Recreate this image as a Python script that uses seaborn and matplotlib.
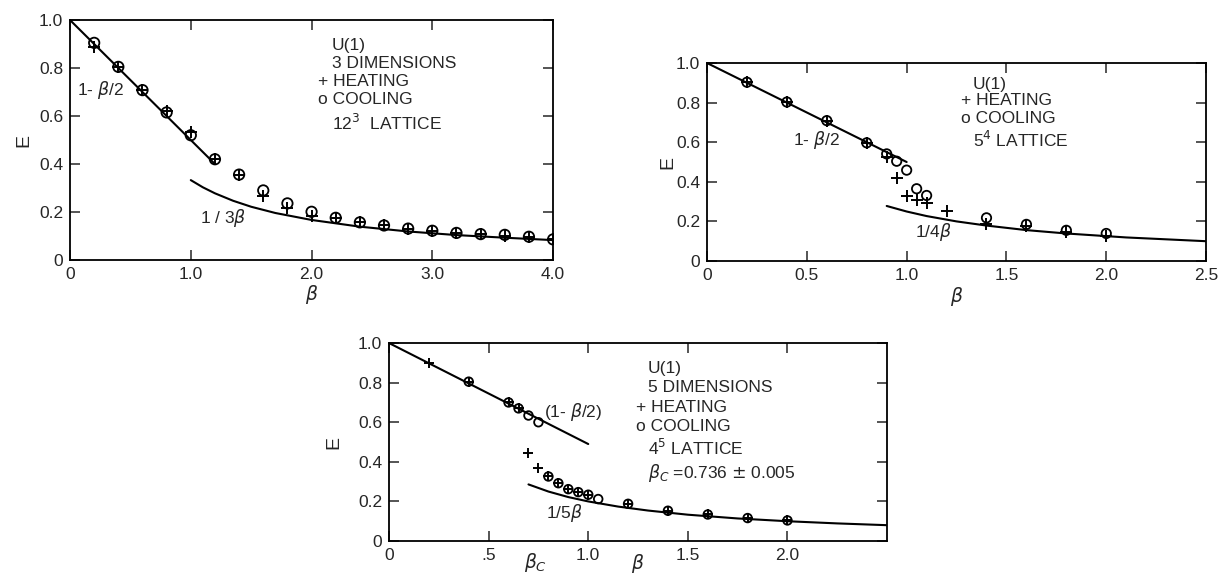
import matplotlib
matplotlib.use("Agg")
import matplotlib.pyplot as plt
import seaborn as sns

# --- data ---
# U(1), 3 dimensions, 12^3 lattice
beta_3d = [0.2, 0.4, 0.6, 0.8, 1.0, 1.2, 1.4, 1.6, 1.8, 2.0,
           2.2, 2.4, 2.6, 2.8, 3.0, 3.2, 3.4, 3.6, 3.8, 4.0]
heat_3d = [0.889, 0.805, 0.708, 0.62, 0.535, 0.42, 0.356, 0.267, 0.215, 0.183,
           0.176, 0.157, 0.144, 0.131, 0.122, 0.113, 0.108, 0.10, 0.097, 0.086]
cool_3d = [0.905, 0.805, 0.708, 0.615, 0.52, 0.42, 0.356, 0.29, 0.236, 0.201,
           0.176, 0.157, 0.144, 0.131, 0.122, 0.113, 0.108, 0.105, 0.097, 0.086]
lin_3d_b = [0.0, 1.2]
lin_3d_e = [1.0, 0.4]
inv_3d_b = [1.0, 1.1, 1.2, 1.35, 1.5, 1.7, 2.0, 2.4, 2.8, 3.2, 3.6, 4.0]
inv_3d_e = [0.333, 0.303, 0.278, 0.247, 0.222, 0.196, 0.167, 0.139, 0.119, 0.104, 0.093, 0.083]

# U(1), 4 dimensions, 5^4 lattice
heat_4d_b = [0.2, 0.4, 0.6, 0.8, 0.9, 0.95, 1.0, 1.05, 1.1, 1.2, 1.4, 1.6, 1.8, 2.0]
heat_4d = [0.903, 0.803, 0.709, 0.597, 0.524, 0.42, 0.328, 0.308, 0.294, 0.252, 0.188, 0.176, 0.146, 0.126]
cool_4d_b = [0.2, 0.4, 0.6, 0.8, 0.9, 0.95, 1.0, 1.05, 1.1, 1.4, 1.6, 1.8, 2.0]
cool_4d = [0.903, 0.803, 0.709, 0.597, 0.541, 0.504, 0.459, 0.365, 0.331, 0.218, 0.185, 0.155, 0.139]
lin_4d_b = [0.0, 1.0]
lin_4d_e = [1.0, 0.5]
inv_4d_b = [0.9, 1.0, 1.1, 1.25, 1.4, 1.6, 1.8, 2.1, 2.5]
inv_4d_e = [0.278, 0.25, 0.227, 0.2, 0.179, 0.156, 0.139, 0.119, 0.10]

# U(1), 5 dimensions, 4^5 lattice
heat_5d_b = [0.2, 0.4, 0.6, 0.65, 0.7, 0.75, 0.8, 0.85, 0.9, 0.95, 1.0, 1.2, 1.4, 1.6, 1.8, 2.0]
heat_5d = [0.90, 0.805, 0.70, 0.67, 0.447, 0.371, 0.326, 0.292, 0.262, 0.247, 0.234, 0.188, 0.153, 0.134, 0.116, 0.104]
cool_5d_b = [0.4, 0.6, 0.65, 0.7, 0.75, 0.8, 0.85, 0.9, 0.95, 1.0, 1.05, 1.2, 1.4, 1.6, 1.8, 2.0]
cool_5d = [0.805, 0.70, 0.67, 0.634, 0.60, 0.326, 0.292, 0.262, 0.247, 0.234, 0.212, 0.188, 0.153, 0.134, 0.116, 0.104]
lin_5d_b = [0.0, 1.0]
lin_5d_e = [1.0, 0.49]
inv_5d_b = [0.7, 0.8, 0.9, 1.0, 1.15, 1.3, 1.5, 1.75, 2.0, 2.25, 2.5]
inv_5d_e = [0.286, 0.25, 0.222, 0.2, 0.174, 0.154, 0.133, 0.114, 0.1, 0.089, 0.08]

y_ticks = [0, 0.2, 0.4, 0.6, 0.8, 1.0]
y_ticklabels = ['0', '0.2', '0.4', '0.6', '0.8', '1.0']

sns.set_style("ticks")
plt.rcParams['font.family'] = ['Liberation Sans', 'DejaVu Sans']
plt.rcParams['mathtext.fontset'] = 'dejavusans'

FS = 12.5

fig = plt.figure(figsize=(12.18, 5.73), dpi=100)
ax1 = fig.add_axes([0.0575, 0.5462, 0.3966, 0.4188])
ax2 = fig.add_axes([0.5805, 0.5445, 0.4097, 0.3455])
ax3 = fig.add_axes([0.3194, 0.0558, 0.4089, 0.3455])


def draw_panel(ax, hb, he, cb, ce, lb, le, ib, ie, msize):
    sns.lineplot(x=lb, y=le, ax=ax, color='black', linewidth=1.5, sort=False, estimator=None)
    sns.lineplot(x=ib, y=ie, ax=ax, color='black', linewidth=1.5, sort=False, estimator=None)
    sns.scatterplot(x=hb, y=he, ax=ax, marker='+', color='black', s=msize, linewidth=1.4, zorder=3)
    sns.scatterplot(x=cb, y=ce, ax=ax, marker='o', facecolors='none', edgecolor='black',
                    s=msize * 0.7, linewidth=1.3, zorder=3)


def style_axes(ax, xmax, xticks, xlabels, ylab_x, xlab_y):
    ax.set_xlim(0, xmax)
    ax.set_ylim(0, 1.0)
    ax.set_xticks(xticks)
    ax.set_xticklabels(xlabels, fontsize=FS)
    ax.set_yticks(y_ticks)
    ax.set_yticklabels(y_ticklabels, fontsize=FS)
    ax.tick_params(direction='in', length=7, width=1.1, top=True, right=True, pad=5)
    for sp in ax.spines.values():
        sp.set_linewidth(1.3)
        sp.set_color('black')
    ax.set_ylabel('E', fontsize=FS + 1.5)
    ax.set_xlabel(r'$\beta$', fontsize=FS + 1)
    ax.yaxis.set_label_coords(ylab_x, 0.5)
    ax.xaxis.set_label_coords(0.5, xlab_y)


# panel 1
draw_panel(ax1, beta_3d, heat_3d, beta_3d, cool_3d, lin_3d_b, lin_3d_e, inv_3d_b, inv_3d_e, 80)
style_axes(ax1, 4.0, [0, 1, 2, 3, 4], ['0', '1.0', '2.0', '3.0', '4.0'], -0.078, -0.095)
ax1.text(0.06, 0.71, r'1- $\beta$/2', fontsize=FS, va='center')
ax1.text(1.08, 0.175, r'1 / 3$\beta$', fontsize=FS, va='center')
for txt, yy in [('U(1)', 0.896), ('3 DIMENSIONS', 0.82), ('+ HEATING', 0.743),
                ('o COOLING', 0.667), (r'12$^3$  LATTICE', 0.57)]:
    xx = 2.05 if txt[0] in '+o' else 2.17
    ax1.text(xx, yy, txt, fontsize=FS, va='center')

# panel 2
draw_panel(ax2, heat_4d_b, heat_4d, cool_4d_b, cool_4d, lin_4d_b, lin_4d_e, inv_4d_b, inv_4d_e, 65)
style_axes(ax2, 2.5, [0, 0.5, 1.0, 1.5, 2.0, 2.5], ['0', '0.5', '1.0', '1.5', '2.0', '2.5'], -0.062, -0.12)
ax2.text(0.43, 0.61, r'1- $\beta$/2', fontsize=FS, va='center')
ax2.text(1.04, 0.145, r'1/4$\beta$', fontsize=FS, va='center')
for txt, yy in [('U(1)', 0.89), ('+ HEATING', 0.81), ('o COOLING', 0.72), (r'5$^4$ LATTICE', 0.61)]:
    xx = 1.27 if txt[0] in '+o' else 1.33
    ax2.text(xx, yy, txt, fontsize=FS, va='center')

# panel 3
draw_panel(ax3, heat_5d_b, heat_5d, cool_5d_b, cool_5d, lin_5d_b, lin_5d_e, inv_5d_b, inv_5d_e, 55)
style_axes(ax3, 2.5, [0, 0.5, 1.0, 1.5, 2.0], ['0', '.5', '1.0', '1.5', '2.0'], -0.094, -0.055)
ax3.text(0.736, -0.05, r'$\beta_C$', fontsize=FS + 1, ha='center', va='top',
         transform=ax3.get_xaxis_transform())
ax3.text(0.78, 0.65, r'(1- $\beta$/2)', fontsize=FS, va='center')
ax3.text(0.79, 0.14, r'1/5$\beta$', fontsize=FS, va='center')
for txt, yy in [('U(1)', 0.872), ('5 DIMENSIONS', 0.776), ('+ HEATING', 0.676),
                ('o COOLING', 0.578), (r'4$^5$ LATTICE', 0.469),
                (r'$\beta_C$ =0.736 $\pm$ 0.005', 0.343)]:
    xx = 1.24 if txt[0] in '+o' else 1.30
    ax3.text(xx, yy, txt, fontsize=FS, va='center')

fig.savefig('out.png', dpi=100)
